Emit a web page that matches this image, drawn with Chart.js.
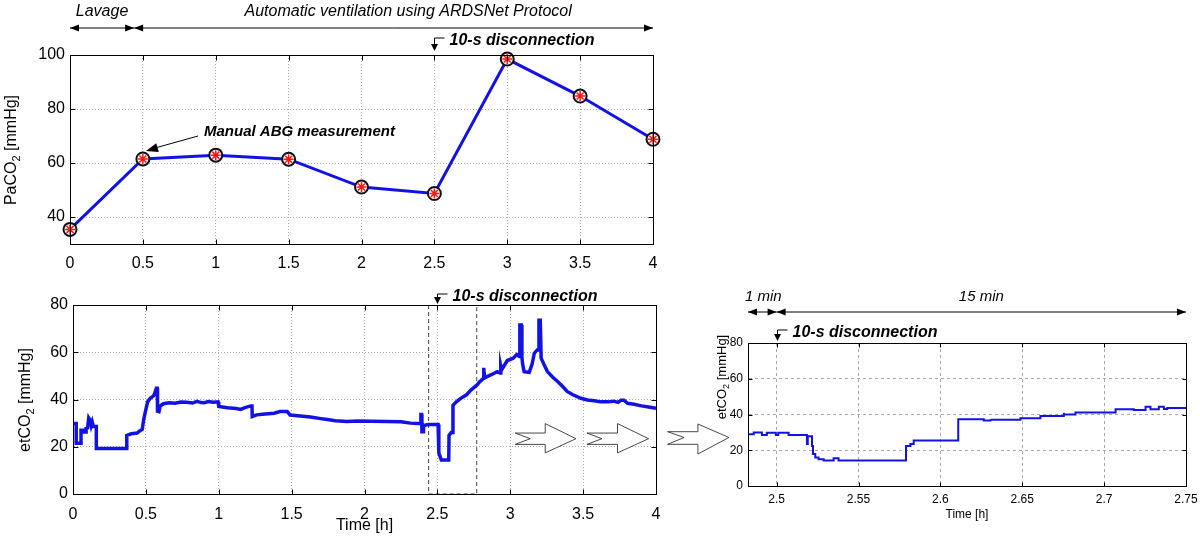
<!DOCTYPE html>
<html lang="en">
<head>
<meta charset="UTF-8">
<title>PaCO2 / etCO2 during lavage and ARDSNet ventilation</title>
<script src="https://cdn.jsdelivr.net/npm/chart.js"></script>
<style>
  body { margin: 0; background: #fff; width: 1200px; height: 542px; position: relative; overflow: hidden; }
  canvas { position: absolute; }
  #topChart { left: 0; top: 0; }
  #etChart { left: 0; top: 280px; }
  #zoomChart { left: 660px; top: 280px; }
</style>
</head>
<body>
<canvas id="topChart" width="665" height="278"></canvas>
<canvas id="etChart" width="665" height="262"></canvas>
<canvas id="zoomChart" width="540" height="262"></canvas>

<script>
// values
const paTime = [0, 0.5, 1, 1.5, 2, 2.5, 3, 3.5, 4];
const paCO2 = [35.4, 61.5, 62.9, 61.4, 51.1, 48.7, 98.5, 84.8, 68.8];

const hourTicks = [0, 0.5, 1, 1.5, 2, 2.5, 3, 3.5, 4];
const paTicks = [40, 60, 80, 100];
const etTicks = [0, 20, 40, 60, 80];
const zoomTicks = [2.5, 2.55, 2.6, 2.65, 2.7, 2.75];

// etCO2, whole experiment
const etTime = [
  0.000, 0.022, 0.022, 0.055, 0.055, 0.075, 0.075, 0.090, 0.090, 0.100,
  0.108, 0.118, 0.125, 0.132, 0.140, 0.160, 0.160, 0.369, 0.369, 0.400,
  0.440, 0.455, 0.475, 0.485, 0.497, 0.512, 0.530, 0.552, 0.560, 0.572,
  0.578, 0.580, 0.590, 0.598, 0.620, 0.660, 0.700, 0.740, 0.780, 0.820,
  0.850, 0.880, 0.900, 0.930, 0.960, 0.995, 1.000, 1.060, 1.120, 1.150,
  1.180, 1.220, 1.228, 1.230, 1.260, 1.300, 1.380, 1.420, 1.470, 1.490,
  1.560, 1.630, 1.700, 1.745, 1.800, 1.880, 1.950, 2.050, 2.150, 2.250,
  2.316, 2.370, 2.385, 2.387, 2.392, 2.394, 2.402, 2.405, 2.440, 2.505,
  2.510, 2.527, 2.578, 2.580, 2.595, 2.605, 2.607, 2.630, 2.660, 2.700,
  2.730, 2.775, 2.790, 2.800, 2.816, 2.818, 2.824, 2.870, 2.910, 2.930,
  2.935, 2.940, 2.980, 3.020, 3.045, 3.063, 3.066, 3.076, 3.080, 3.085,
  3.095, 3.130, 3.150, 3.165, 3.185, 3.194, 3.197, 3.206, 3.212, 3.230,
  3.255, 3.290, 3.325, 3.360, 3.390, 3.430, 3.485, 3.530, 3.576, 3.620,
  3.670, 3.710, 3.740, 3.760, 3.780, 3.805, 3.850, 3.900, 3.950, 4.000
];
const etCO2 = [
  29.8, 29.8, 21.5, 21.5, 27.0, 27.0, 26.2, 26.2, 27.8, 28.0,
  32.2, 31.2, 29.0, 30.5, 28.6, 28.6, 19.3, 19.3, 24.8, 25.5,
  25.8, 26.6, 27.3, 31.5, 35.0, 39.0, 40.5, 41.5, 42.5, 44.8,
  44.8, 35.0, 34.8, 37.2, 38.2, 38.6, 38.4, 38.9, 38.8, 38.5,
  39.2, 38.7, 38.6, 39.1, 38.8, 39.0, 37.0, 36.5, 36.2, 35.8,
  36.6, 37.3, 37.3, 32.8, 33.5, 33.8, 34.2, 34.9, 34.9, 33.4,
  33.0, 32.6, 31.9, 31.5, 31.0, 30.7, 30.9, 30.8, 30.7, 30.6,
  30.0, 29.8, 29.8, 33.6, 33.6, 26.4, 26.4, 29.0, 29.4, 29.4,
  17.4, 14.4, 14.4, 24.8, 26.0, 26.0, 37.5, 39.0, 40.5, 42.0,
  44.0, 46.3, 47.5, 48.0, 49.0, 53.4, 49.2, 50.5, 51.8, 51.2,
  54.0, 52.5, 56.5, 57.5, 59.0, 58.2, 71.5, 71.5, 58.0, 55.0,
  51.8, 51.5, 55.0, 59.6, 61.0, 61.0, 73.5, 73.5, 57.5, 55.0,
  51.8, 49.5, 47.6, 45.5, 43.4, 42.0, 40.5, 39.8, 39.5, 39.0,
  39.0, 39.3, 38.8, 39.7, 39.7, 38.4, 38.0, 37.3, 36.8, 36.3
];

// dashed window marked on the etCO2 trace (h)
const zoomBox = [2.44, 2.77];

// etCO2, zoom on the disconnection
const zoomTime = [
  2.4825, 2.486, 2.486, 2.491, 2.491, 2.494, 2.494, 2.4995, 2.4995, 2.501,
  2.501, 2.5073, 2.5073, 2.5185, 2.5185, 2.519, 2.519, 2.5216, 2.5222, 2.5236,
  2.5256, 2.5287, 2.5317, 2.5348, 2.5348, 2.5378, 2.5378, 2.579, 2.579, 2.5817,
  2.5837, 2.5858, 2.6109, 2.6109, 2.6265, 2.6265, 2.6306, 2.6306, 2.6367, 2.6489,
  2.6489, 2.6611, 2.6611, 2.6754, 2.6754, 2.6774, 2.6825, 2.6845, 2.707, 2.707,
  2.7181, 2.7181, 2.7253, 2.7253, 2.7283, 2.7283, 2.7334, 2.7334, 2.7365, 2.7365,
  2.7385, 2.7385, 2.75
];
const zoomCO2 = [
  28.9, 28.9, 30.0, 30.0, 28.5, 28.5, 29.8, 29.8, 28.5, 28.5,
  29.8, 29.8, 28.5, 28.5, 23.5, 23.5, 27.9, 27.9, 22.4, 17.9,
  16.0, 14.9, 14.2, 14.2, 15.5, 15.5, 14.2, 14.2, 21.6, 22.4,
  23.5, 25.4, 25.4, 37.4, 37.4, 36.6, 36.6, 37.3, 37.0, 37.0,
  37.9, 37.9, 39.2, 39.2, 41.0, 40.0, 40.0, 41.1, 41.1, 42.9,
  42.9, 42.5, 42.5, 44.4, 44.4, 42.9, 42.9, 44.4, 44.4, 43.1,
  43.1, 43.7, 43.7
];

const disconnectAt = 2.5;

const fam = "'Liberation Sans', Arial, Helvetica, sans-serif";
const blue = '#1212e6';

function pts(xs, ys) {
  return xs.map((x, i) => ({ x: x, y: ys[i] }));
}

// ---------- drawing helpers ----------
function frame(chart, len) {
  const { ctx, chartArea: a, scales: { x, y } } = chart;
  ctx.save();
  ctx.strokeStyle = '#000';
  ctx.lineWidth = 1;
  const l = Math.round(a.left) + 0.5, t = Math.round(a.top) + 0.5;
  const r = Math.round(a.right) + 0.5, b = Math.round(a.bottom) + 0.5;
  ctx.strokeRect(l, t, r - l, b - t);
  ctx.beginPath();
  x.ticks.forEach(tk => {
    const px = Math.round(x.getPixelForValue(tk.value)) + 0.5;
    ctx.moveTo(px, b); ctx.lineTo(px, b - len);
    ctx.moveTo(px, t); ctx.lineTo(px, t + len);
  });
  y.ticks.forEach(tk => {
    const py = Math.round(y.getPixelForValue(tk.value)) + 0.5;
    ctx.moveTo(l, py); ctx.lineTo(l + len, py);
    ctx.moveTo(r, py); ctx.lineTo(r - len, py);
  });
  ctx.stroke();
  ctx.restore();
}

function head(ctx, x, y, ang, len, half) {
  ctx.save();
  ctx.translate(x, y);
  ctx.rotate(ang);
  ctx.beginPath();
  ctx.moveTo(0, 0);
  ctx.lineTo(-len, -half);
  ctx.lineTo(-len, half);
  ctx.closePath();
  ctx.fill();
  ctx.restore();
}

function spanArrow(ctx, x1, x2, y) {
  ctx.beginPath();
  ctx.moveTo(x1, y); ctx.lineTo(x2, y);
  ctx.stroke();
  head(ctx, x1, y, Math.PI, 9, 3.5);
  head(ctx, x2, y, 0, 9, 3.5);
}

function disconnect(ctx, x, yTop, yTip, size) {
  ctx.beginPath();
  ctx.moveTo(x + 10, yTop); ctx.lineTo(x, yTop); ctx.lineTo(x, yTip - 5);
  ctx.stroke();
  head(ctx, x, yTip, Math.PI / 2, 7, 3.5);
  ctx.font = 'italic bold ' + size + 'px ' + fam;
  ctx.textAlign = 'left';
  ctx.textBaseline = 'middle';
  ctx.fillText('10-s disconnection', x + 15, yTop + 3);
}

function blockArrow(ctx, p) {
  ctx.save();
  ctx.beginPath();
  ctx.moveTo(p.left, p.shaftTop);
  ctx.lineTo(p.base, p.shaftTop);
  ctx.lineTo(p.base, p.headTop);
  ctx.lineTo(p.tip, p.mid);
  ctx.lineTo(p.base, p.headBot);
  ctx.lineTo(p.base, p.shaftBot);
  ctx.lineTo(p.left, p.shaftBot);
  ctx.lineTo(p.notch, p.mid);
  ctx.closePath();
  ctx.fillStyle = '#fff';
  ctx.fill();
  ctx.strokeStyle = '#333';
  ctx.lineWidth = 0.9;
  ctx.stroke();
  ctx.restore();
}

function yLabel(ctx, cx, cy, a, b, c, size) {
  ctx.save();
  ctx.translate(cx, cy);
  ctx.rotate(-Math.PI / 2);
  const big = size + 'px ' + fam;
  const small = Math.round(size * 0.7) + 'px ' + fam;
  ctx.font = big;
  const w1 = ctx.measureText(a).width, w3 = ctx.measureText(c).width;
  ctx.font = small;
  const w2 = ctx.measureText(b).width;
  let x0 = -(w1 + w2 + w3) / 2;
  ctx.fillStyle = '#000';
  ctx.textAlign = 'left';
  ctx.textBaseline = 'middle';
  ctx.font = big; ctx.fillText(a, x0, 0);
  ctx.font = small; ctx.fillText(b, x0 + w1, size * 0.32);
  ctx.font = big; ctx.fillText(c, x0 + w1 + w2, 0);
  ctx.restore();
}

function ticksFrom(list) {
  return s => { s.ticks = list.map(v => ({ value: v })); };
}

// fixed axis band, no extra side padding for overhanging labels
function fixHeight(h) {
  return s => { s.height = h; s.paddingLeft = 0; s.paddingRight = 0; };
}
function fixWidth(w) {
  return s => { s.width = w; s.paddingTop = 0; s.paddingBottom = 0; };
}

function axis(extra, size, dash, pad) {
  return Object.assign({
    type: 'linear',
    ticks: { font: { family: fam, size: size }, color: '#000', padding: pad, callback: v => String(v) },
    grid: { color: '#a8a8a8', lineWidth: 1, drawTicks: false },
    border: { color: '#000', width: 1, dash: dash }
  }, extra);
}

// ---------- PaCO2 ----------
const topDecor = {
  id: 'topDecor',
  afterDraw(chart) {
    const { ctx, scales: { x } } = chart;
    frame(chart, 5);
    ctx.save();
    ctx.fillStyle = '#000';
    ctx.strokeStyle = '#000';
    ctx.lineWidth = 1;
    ctx.font = 'italic 16px ' + fam;
    ctx.textAlign = 'center';
    ctx.textBaseline = 'middle';
    ctx.fillText('Lavage', x.getPixelForValue(0.22), 12);
    ctx.fillText('Automatic ventilation using ARDSNet Protocol', x.getPixelForValue(2.32), 12);
    spanArrow(ctx, x.getPixelForValue(0), x.getPixelForValue(0.44), 28);
    spanArrow(ctx, x.getPixelForValue(0.44), x.getPixelForValue(4), 28);
    disconnect(ctx, Math.round(x.getPixelForValue(disconnectAt)) + 0.5, 38, 51, 16);
    ctx.font = 'italic bold 15px ' + fam;
    ctx.textAlign = 'left';
    ctx.fillText('Manual ABG measurement', 204, 132);
    ctx.beginPath();
    ctx.moveTo(198, 136); ctx.lineTo(155, 148);
    ctx.stroke();
    head(ctx, 146, 151, Math.atan2(151 - 136, 146 - 198), 12, 4.5);
    yLabel(ctx, 12, 150, 'PaCO', '2', ' [mmHg]', 16);
    ctx.restore();
  }
};

new Chart(document.getElementById('topChart'), {
  type: 'line',
  data: {
    datasets: [
      {
        data: pts(paTime, paCO2), showLine: false, pointStyle: 'star', pointRadius: 5,
        borderColor: '#ff1414', pointBorderWidth: 1.5, clip: false, order: 1
      },
      {
        data: pts(paTime, paCO2), borderColor: blue, borderWidth: 3, tension: 0,
        pointStyle: 'circle', pointRadius: 6.5, pointBorderColor: '#111', pointBorderWidth: 2,
        pointBackgroundColor: '#fff', clip: false, order: 2
      }
    ]
  },
  options: {
    responsive: false,
    animation: false,
    events: [],
    layout: { padding: { top: 55, right: 12, left: 0, bottom: 0 } },
    plugins: { legend: { display: false }, tooltip: { enabled: false } },
    scales: {
      x: axis({ min: 0, max: 4, afterBuildTicks: ticksFrom(hourTicks), afterFit: fixHeight(34) }, 16, [1, 2], 10),
      y: axis({ min: 30, max: 100, afterBuildTicks: ticksFrom(paTicks), afterFit: fixWidth(70) }, 16, [1, 2], 5)
    }
  },
  plugins: [topDecor]
});

// ---------- etCO2 whole run ----------
const etDecor = {
  id: 'etDecor',
  afterDraw(chart) {
    const { ctx, scales: { x, y } } = chart;
    frame(chart, 5);
    ctx.save();
    ctx.fillStyle = '#000';
    ctx.strokeStyle = '#000';
    ctx.lineWidth = 1;
    const arrows = [[3.034, 3.137, 3.24, 3.451], [3.526, 3.629, 3.736, 3.949]];
    arrows.forEach(a => blockArrow(ctx, {
      left: x.getPixelForValue(a[0]), notch: x.getPixelForValue(a[1]),
      base: x.getPixelForValue(a[2]), tip: x.getPixelForValue(a[3]),
      headTop: y.getPixelForValue(29.8), shaftTop: y.getPixelForValue(25.8),
      mid: y.getPixelForValue(23.4), shaftBot: y.getPixelForValue(21.0),
      headBot: y.getPixelForValue(17.4)
    }));
    disconnect(ctx, Math.round(x.getPixelForValue(disconnectAt)) + 0.5, 14, 24, 16);
    yLabel(ctx, 26, 120, 'etCO', '2', ' [mmHg]', 16);
    ctx.restore();
  }
};

new Chart(document.getElementById('etChart'), {
  type: 'line',
  data: {
    datasets: [
      {
        data: pts(etTime, etCO2), borderColor: blue, borderWidth: 3.5, pointRadius: 0,
        tension: 0, order: 1
      },
      {
        data: [
          { x: zoomBox[0], y: 80 }, { x: zoomBox[0], y: 0 },
          { x: zoomBox[1], y: 0 }, { x: zoomBox[1], y: 80 }
        ],
        borderColor: '#444', borderWidth: 1, borderDash: [4, 3], pointRadius: 0, order: 2
      }
    ]
  },
  options: {
    responsive: false,
    animation: false,
    events: [],
    layout: { padding: { top: 25, right: 9, left: 0, bottom: 0 } },
    plugins: { legend: { display: false }, tooltip: { enabled: false } },
    scales: {
      x: axis({
        min: 0, max: 4, afterBuildTicks: ticksFrom(hourTicks), afterFit: fixHeight(48),
        title: { display: true, text: 'Time [h]', font: { family: fam, size: 16 }, color: '#000', padding: { top: 0, bottom: 7 } }
      }, 16, [1, 2], 11),
      y: axis({ min: 0, max: 80, afterBuildTicks: ticksFrom(etTicks), afterFit: fixWidth(73) }, 16, [1, 2], 5)
    }
  },
  plugins: [etDecor]
});

// ---------- etCO2 zoom ----------
const zoomDecor = {
  id: 'zoomDecor',
  afterDraw(chart) {
    const { ctx, scales: { x } } = chart;
    frame(chart, 4);
    ctx.save();
    ctx.fillStyle = '#000';
    ctx.strokeStyle = '#000';
    ctx.lineWidth = 1;
    const x0 = x.getPixelForValue(x.min), xd = x.getPixelForValue(disconnectAt), x1 = x.getPixelForValue(x.max);
    ctx.font = 'italic 15px ' + fam;
    ctx.textAlign = 'center';
    ctx.textBaseline = 'middle';
    ctx.fillText('1 min', (x0 + xd) / 2 + 1, 17);
    ctx.fillText('15 min', (xd + x1) / 2, 17);
    spanArrow(ctx, x0, xd, 32);
    spanArrow(ctx, xd, x1, 32);
    disconnect(ctx, Math.round(xd) + 0.5, 50, 61, 16);
    yLabel(ctx, 62, 97, 'etCO', '2', ' [mmHg]', 13);
    // hollow arrow leading in from the left panel
    blockArrow(ctx, { left: 7.6, notch: 24.1, base: 37.9, tip: 68.9, headTop: 144, shaftTop: 151.7, mid: 157.5, shaftBot: 164.3, headBot: 174 });
    ctx.restore();
  }
};

new Chart(document.getElementById('zoomChart'), {
  type: 'line',
  data: {
    datasets: [{
      data: pts(zoomTime, zoomCO2), borderColor: blue, borderWidth: 2, pointRadius: 0,
      stepped: 'after'
    }]
  },
  options: {
    responsive: false,
    animation: false,
    events: [],
    layout: { padding: { top: 63, right: 14, left: 0, bottom: 0 } },
    plugins: { legend: { display: false }, tooltip: { enabled: false } },
    scales: {
      x: axis({
        min: 2.4825, max: 2.75, afterBuildTicks: ticksFrom(zoomTicks), afterFit: fixHeight(56),
        title: { display: true, text: 'Time [h]', font: { family: fam, size: 12 }, color: '#000', padding: { top: 0, bottom: 20 } }
      }, 12, [3, 3], 6),
      y: axis({ min: 0, max: 80, afterBuildTicks: ticksFrom(etTicks), afterFit: fixWidth(88) }, 12, [3, 3], 5)
    }
  },
  plugins: [zoomDecor]
});
</script>
</body>
</html>
